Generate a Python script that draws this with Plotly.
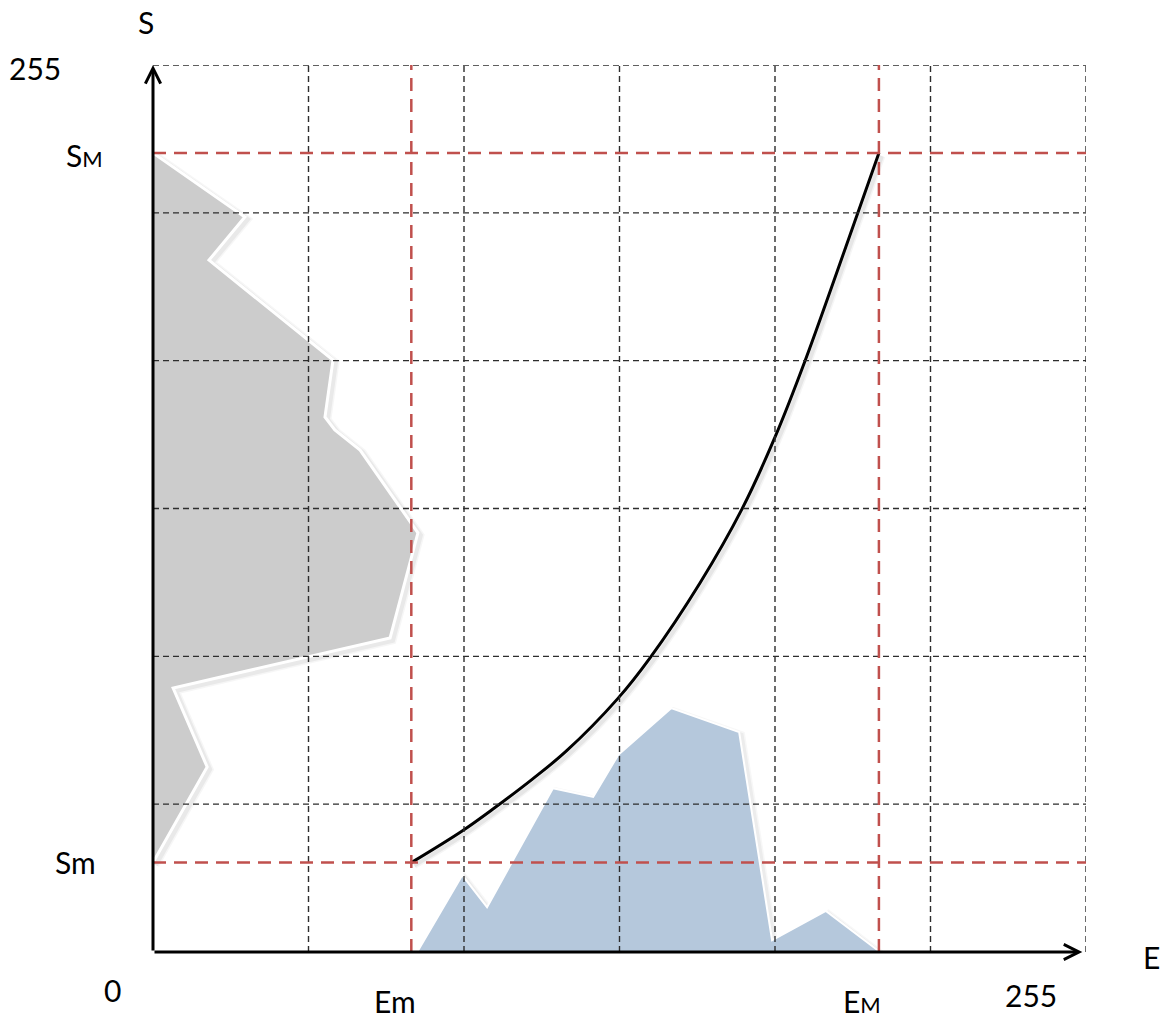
import plotly.graph_objects as go

# Value range of both channels (8-bit)
VMAX = 255
GRID_STEP = 42.5
grid_vals = [GRID_STEP * i for i in range(1, 7)]

# Input range (E) and output range (S) limits
E_min, E_max = 70.6, 198.4
S_min, S_max = 25.7, 229.7

# Output histogram, drawn along the S axis (counts on x, level on y)
hist_s_count = [0, 25.1, 15.3, 49.2, 47.0, 49.7, 56.6, 72.4, 64.8, 5.5, 14.8, 0]
hist_s_level = [229.7, 211.3, 198.9, 170.2, 153.8, 150.1, 144.3, 120.5, 90.3, 75.9, 53.2, 25.7]

# Input histogram, drawn along the E axis
hist_e_level = [72.2, 84.5, 91.3, 109.3, 120.3, 127.1, 141.6, 160.2, 169.2, 183.9, 198.7]
hist_e_count = [0, 22.1, 12.9, 47.1, 44.6, 56.6, 70.1, 63.2, 3.4, 11.8, 0]

# Mapping curve S = f(E)
curve_e = [70.6, 84.5, 93.3, 103.7, 113.0, 126.9, 135.8, 149.5, 161.0, 170.0, 178.2, 192.7, 198.4]
curve_s = [25.7, 34.8, 41.4, 49.7, 57.8, 72.7, 84.5, 106.1, 127.4, 148.0, 169.9, 212.7, 229.7]

W, H = 1161, 1018
ML, MR, MT, MB = 153, 75, 65, 66
px_x = VMAX / (W - ML - MR)   # data units per pixel
px_y = VMAX / (H - MT - MB)


def shifted(xs, ys, dx_px, dy_px):
    return [x + dx_px * px_x for x in xs], [y - dy_px * px_y for y in ys]


fig = go.Figure()

# soft shadows under the white outlines
for w, a in ((8, 0.035), (5, 0.05)):
    sx, sy = shifted(hist_s_count, hist_s_level, 2.5, 2.5)
    fig.add_trace(go.Scatter(x=sx, y=sy, mode="lines",
                             line=dict(color=f"rgba(0,0,0,{a})", width=w),
                             hoverinfo="skip", showlegend=False))
fig.add_trace(go.Scatter(x=hist_s_count, y=hist_s_level, mode="lines",
                         fill="toself", fillcolor="rgb(204,204,204)",
                         line=dict(color="white", width=3),
                         hoverinfo="skip", showlegend=False))

for w, a in ((7, 0.03), (4, 0.045)):
    ex, ey = shifted(hist_e_level, hist_e_count, 2.5, 2.5)
    fig.add_trace(go.Scatter(x=ex, y=ey, mode="lines",
                             line=dict(color=f"rgba(0,0,0,{a})", width=w),
                             hoverinfo="skip", showlegend=False))
fig.add_trace(go.Scatter(x=hist_e_level, y=hist_e_count, mode="lines",
                         fill="toself", fillcolor="rgb(181,200,220)",
                         line=dict(color="white", width=2),
                         hoverinfo="skip", showlegend=False))

for w, a in ((7, 0.04), (4, 0.06)):
    cx, cy = shifted(curve_e, curve_s, 3, 3)
    fig.add_trace(go.Scatter(x=cx, y=cy, mode="lines",
                             line=dict(color=f"rgba(0,0,0,{a})", width=w,
                                       shape="spline", smoothing=1.0),
                             hoverinfo="skip", showlegend=False))
fig.add_trace(go.Scatter(x=curve_e, y=curve_s, mode="lines",
                         line=dict(color="black", width=3, shape="spline", smoothing=1.0),
                         hoverinfo="skip", showlegend=False))

# dashed grid drawn on top of the filled histograms
grid_style = dict(color="rgb(45,45,45)", width=1.4, dash="6px,4px")
for g in grid_vals:
    fig.add_shape(type="line", xref="x", yref="y", x0=g, x1=g, y0=0, y1=VMAX,
                  line=grid_style, layer="above")
    fig.add_shape(type="line", xref="x", yref="y", x0=0, x1=VMAX, y0=g, y1=g,
                  line=grid_style, layer="above")

# range limit guides
red_style = dict(color="rgb(192,80,77)", width=2.5, dash="13px,8px")
for e in (E_min, E_max):
    fig.add_shape(type="line", xref="x", yref="y", x0=e, x1=e, y0=0, y1=VMAX,
                  line=red_style, layer="above")
for s in (S_min, S_max):
    fig.add_shape(type="line", xref="x", yref="y", x0=0, x1=VMAX, y0=s, y1=s,
                  line=red_style, layer="above")

# axes with arrowheads
arrow_common = dict(xref="x", yref="y", axref="x", ayref="y", text="",
                    showarrow=True, arrowhead=5, arrowsize=1, arrowwidth=3,
                    arrowcolor="black", ax=0, ay=0)
fig.add_annotation(x=254, y=0, **arrow_common)
fig.add_annotation(x=0, y=VMAX, **arrow_common)

FONT = "Lato"
big = dict(family=FONT, size=30, color="black")


def label(text, x, y):
    # positions given in axis units; placed in paper space so they may sit
    # outside the plotting area
    fig.add_annotation(x=x / VMAX, y=y / VMAX, xref="paper", yref="paper",
                       text=text, showarrow=False, font=big,
                       xanchor="center", yanchor="middle")


small_m = "<span style='font-size:22px'>M</span>"
label("S", -1.9, 267.4)
label("255", -32.3, 254.1)
label("S" + small_m, -18.6, 229.1)
label("Sm", -21.3, 25.9)
label("0", -11.2, -10.9)
label("Em", 66.1, -14.1)
label("E" + small_m, 193.8, -14.2)
label("255", 240.0, -12.4)
label("E", 273.0, -1.4)

fig.update_xaxes(range=[0, VMAX], visible=False, fixedrange=True)
fig.update_yaxes(range=[0, VMAX], visible=False, fixedrange=True)
fig.update_layout(width=W, height=H, autosize=False,
                  margin=dict(l=ML, r=MR, t=MT, b=MB),
                  plot_bgcolor="white", paper_bgcolor="white",
                  showlegend=False)

fig.write_html("out.html", config={"displayModeBar": False})
